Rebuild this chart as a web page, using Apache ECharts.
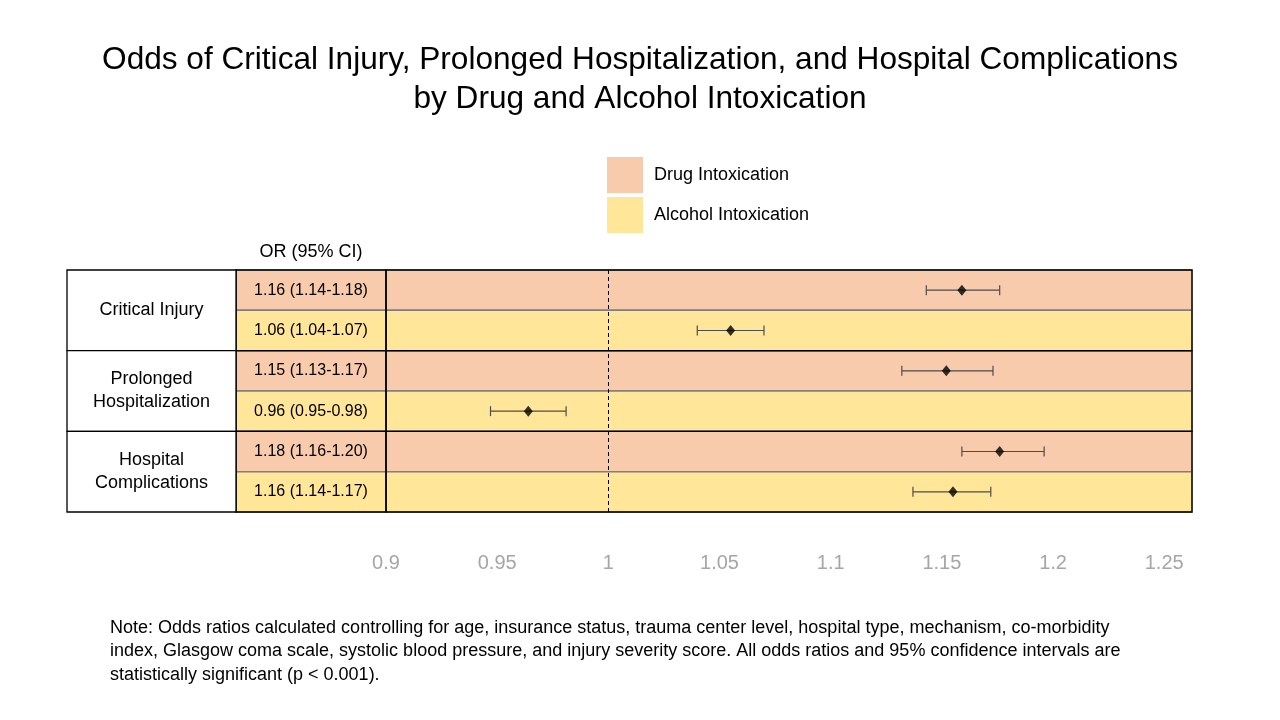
<!DOCTYPE html>
<html>
<head>
<meta charset="utf-8">
<script src="https://cdn.jsdelivr.net/npm/echarts@6/dist/echarts.min.js"></script>
<style>html,body{margin:0;padding:0;background:#fff;}#chart{width:1280px;height:720px;}</style>
</head>
<body>
<div id="chart"></div>
<script>
// ---- data ----
const groups = ['Critical Injury', 'Prolonged\nHospitalization', 'Hospital\nComplications'];
const seriesNames = ['Drug Intoxication', 'Alcohol Intoxication'];
const rows = ['r0', 'r1', 'r2', 'r3', 'r4', 'r5'];
const rowType = [0, 1, 0, 1, 0, 1];
const orLabels = ['1.16 (1.14-1.18)', '1.06 (1.04-1.07)', '1.15 (1.13-1.17)', '0.96 (0.95-0.98)', '1.18 (1.16-1.20)', '1.16 (1.14-1.17)'];
const orValues = [1.159, 1.055, 1.152, 0.964, 1.176, 1.155];
const ciLow = [1.143, 1.040, 1.132, 0.947, 1.159, 1.137];
const ciHigh = [1.176, 1.070, 1.173, 0.981, 1.196, 1.172];
const xMin = 0.9, xMax = 1.2625, xStep = 0.05;
const refLine = 1;
const titleText = 'Odds of Critical Injury, Prolonged Hospitalization, and Hospital Complications\nby Drug and Alcohol Intoxication';
const headerText = 'OR (95% CI)';
const noteText = 'Note: Odds ratios calculated controlling for age, insurance status, trauma center level, hospital type, mechanism, co-morbidity\nindex, Glasgow coma scale, systolic blood pressure, and injury severity score. All odds ratios and 95% confidence intervals are\nstatistically significant (p < 0.001).';

// ---- style ----
const COLORS = ['#F8CBAD', '#FFE699'];
const FONT = '"Liberation Sans", Arial, sans-serif';
const INNER = '#7f7f7f';
const OUTER = '#000000';

const chart = echarts.init(document.getElementById('chart'));

function rowBand(api, r) {
  const c = api.coord([0, r]);
  const h = api.size([0, 1])[1];
  return { y: c[1] - h / 2, h: h };
}

function bandRender(params, api) {
  const cs = params.coordSys;
  const r = api.value(1);
  const b = rowBand(api, r);
  return { type: 'rect', shape: { x: cs.x, y: b.y, width: cs.width, height: b.h },
           style: { fill: api.visual('color'), stroke: INNER, lineWidth: 1.5 } };
}

function groupRender(fill, withText, stroke) {
  return function (params, api) {
    const cs = params.coordSys;
    const r = api.value(1);
    const b1 = rowBand(api, r);
    const b2 = rowBand(api, r + 1);
    const children = [{ type: 'rect', shape: { x: cs.x, y: b1.y, width: cs.width, height: b2.y + b2.h - b1.y },
      style: { fill: fill, stroke: stroke || OUTER, lineWidth: 1.3 } }];
    if (withText) {
      children.push({ type: 'text', x: cs.x + cs.width / 2, y: (b1.y + b2.y + b2.h) / 2,
        style: { text: groups[params.dataIndex], fill: '#000', font: '18px ' + FONT, align: 'center', verticalAlign: 'middle', lineHeight: 23 } });
    }
    return { type: 'group', children: children };
  };
}

function orRender(params, api) {
  const cs = params.coordSys;
  const r = api.value(1);
  const b = rowBand(api, r);
  return { type: 'group', children: [
    { type: 'rect', shape: { x: cs.x, y: b.y, width: cs.width, height: b.h },
      style: { fill: COLORS[rowType[r]], stroke: INNER, lineWidth: 1.5 } },
    { type: 'text', x: cs.x + cs.width / 2, y: b.y + b.h / 2,
      style: { text: orLabels[r], fill: '#000', font: '16px ' + FONT, align: 'center', verticalAlign: 'middle' } }
  ] };
}

function errRender(params, api) {
  const r = api.value(2);
  const p1 = api.coord([api.value(0), r]);
  const p2 = api.coord([api.value(1), r]);
  const cap = 5;
  const st = { stroke: '#4d4d4d', lineWidth: 1.2 };
  return { type: 'group', children: [
    { type: 'line', shape: { x1: p1[0], y1: p1[1], x2: p2[0], y2: p2[1] }, style: st },
    { type: 'line', shape: { x1: p1[0], y1: p1[1] - cap, x2: p1[0], y2: p1[1] + cap }, style: st },
    { type: 'line', shape: { x1: p2[0], y1: p2[1] - cap, x2: p2[0], y2: p2[1] + cap }, style: st }
  ] };
}

const gridTop = 270, gridH = 242;
const hiddenX = (i) => ({ type: 'value', gridIndex: i, min: 0, max: 1, show: false });
const hiddenY = (i) => ({ type: 'category', gridIndex: i, data: rows, inverse: true, show: false });

const bandData = [[], []];
rows.forEach((r, i) => bandData[rowType[i]].push([1, i]));

const option = {
  animation: false,
  backgroundColor: '#fff',
  title: {
    text: titleText, left: 'center', top: 36,
    textStyle: { fontFamily: FONT, fontSize: 31.6, fontWeight: 'normal', color: '#000', lineHeight: 39 }
  },
  legend: {
    left: 607, top: 157, orient: 'vertical', itemWidth: 36, itemHeight: 36, itemGap: 4, padding: 0,
    selectedMode: false,
    data: seriesNames.map((n, i) => ({ name: n, icon: 'rect', itemStyle: { color: COLORS[i] } })),
    textStyle: { fontFamily: FONT, fontSize: 18, color: '#000', padding: [0, 0, 5, 6] }
  },
  grid: [
    { left: 67, width: 169, top: gridTop, height: gridH },
    { left: 236, width: 150, top: gridTop, height: gridH },
    { left: 386, width: 806, top: gridTop, height: gridH }
  ],
  xAxis: [
    hiddenX(0), hiddenX(1),
    { type: 'value', gridIndex: 2, min: xMin, max: xMax, interval: xStep,
      axisLine: { show: false }, axisTick: { show: false }, splitLine: { show: false },
      axisLabel: { margin: 41, color: '#a6a6a6', fontFamily: FONT, fontSize: 20, showMaxLabel: false,
        formatter: (v) => { const k = Math.round(v / xStep); return Math.abs(k * xStep - v) < 1e-6 ? String(+v.toFixed(2)) : ''; } } }
  ],
  yAxis: [hiddenY(0), hiddenY(1), hiddenY(2)],
  graphic: [
    { type: 'text', x: 311, y: 252, style: { text: headerText, fill: '#000', font: '18px ' + FONT, align: 'center', verticalAlign: 'middle' } },
    { type: 'text', x: 110, y: 616, style: { text: noteText, fill: '#000', font: '18px ' + FONT, lineHeight: 23.5 } }
  ],
  series: [
    { type: 'custom', name: seriesNames[0], xAxisIndex: 2, yAxisIndex: 2, itemStyle: { color: COLORS[0] },
      renderItem: bandRender, data: bandData[0], z: 1 },
    { type: 'custom', name: seriesNames[1], xAxisIndex: 2, yAxisIndex: 2, itemStyle: { color: COLORS[1] },
      renderItem: bandRender, data: bandData[1], z: 1 },
    { type: 'custom', name: 'groupsPlot', xAxisIndex: 2, yAxisIndex: 2,
      renderItem: groupRender('none', false), data: [[1, 0], [1, 2], [1, 4]], z: 2 },
    { type: 'custom', name: 'orCells', xAxisIndex: 1, yAxisIndex: 1,
      renderItem: orRender, data: rows.map((r, i) => [0.5, i]), z: 1 },
    { type: 'custom', name: 'groupsOR', xAxisIndex: 1, yAxisIndex: 1,
      renderItem: groupRender('none', false), data: [[0.5, 0], [0.5, 2], [0.5, 4]], z: 2 },
    { type: 'custom', name: 'groupLabels', xAxisIndex: 0, yAxisIndex: 0,
      renderItem: groupRender('#fff', true), data: [[0.5, 0], [0.5, 2], [0.5, 4]], z: 3 },
    { type: 'custom', name: 'ci', xAxisIndex: 2, yAxisIndex: 2, renderItem: errRender,
      data: rows.map((r, i) => [ciLow[i], ciHigh[i], i]), z: 4 },
    { type: 'scatter', name: 'or', xAxisIndex: 2, yAxisIndex: 2, symbol: 'diamond', symbolSize: [9, 11],
      itemStyle: { color: '#000' }, data: rows.map((r, i) => [orValues[i], i]), z: 5,
      markLine: { silent: true, symbol: 'none', label: { show: false },
        lineStyle: { color: '#000', type: [4, 3], width: 1 }, data: [{ xAxis: refLine }] } }
  ]
};
chart.setOption(option);
</script>
</body>
</html>
